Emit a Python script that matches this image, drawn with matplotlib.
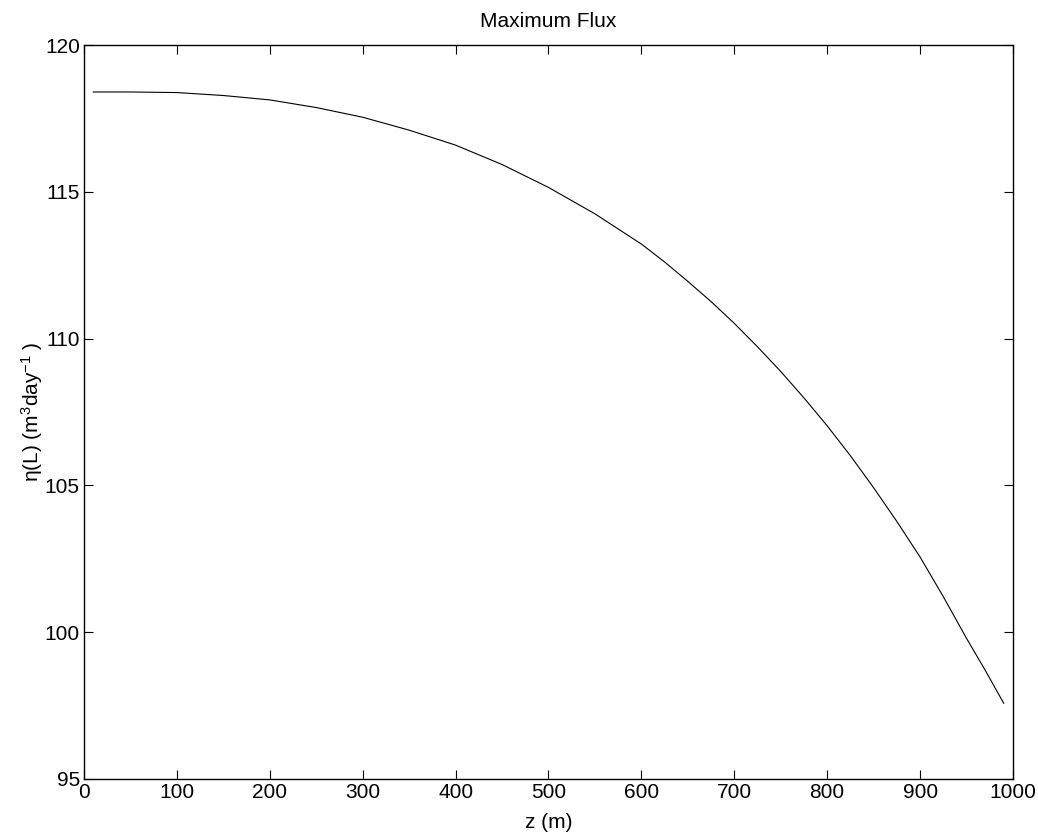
import matplotlib
matplotlib.use('Agg')
import matplotlib.pyplot as plt

plt.rcParams['font.family'] = ['Liberation Sans', 'DejaVu Sans']
plt.rcParams['mathtext.fontset'] = 'custom'
plt.rcParams['mathtext.rm'] = 'Liberation Sans'
plt.rcParams['mathtext.default'] = 'regular'

# valores
z = [10, 50, 100, 150, 200, 250, 300, 350, 400, 450, 500, 550, 600,
     625, 650, 675, 700, 725, 750, 775, 800, 825, 850, 875, 900, 925,
     950, 970, 990]
eta = [118.40, 118.40, 118.38, 118.28, 118.13, 117.87, 117.54, 117.10,
       116.59, 115.93, 115.15, 114.25, 113.22, 112.61, 111.95, 111.26,
       110.52, 109.72, 108.88, 107.98, 107.03, 106.01, 104.92, 103.77,
       102.56, 101.21, 99.79, 98.71, 97.58]

xticks = [0, 100, 200, 300, 400, 500, 600, 700, 800, 900, 1000]
yticks = [95, 100, 105, 110, 115, 120]

fig = plt.figure(figsize=(10.38, 8.35), dpi=100)
ax = fig.add_axes([0.0809, 0.0671, 0.8950, 0.8790])

ax.plot(z, eta, color='black', linewidth=0.8)

ax.set_xlim(0, 1000)
ax.set_ylim(95, 120)
ax.set_xticks(xticks)
ax.set_yticks(yticks)
ax.tick_params(direction='in', top=True, right=True, length=6.5, width=0.8,
               labelsize=15, pad=3)
for s in ax.spines.values():
    s.set_linewidth(1.0)

ax.set_title('Maximum Flux', fontsize=15, pad=13)
ax.set_xlabel('z (m)', fontsize=15, labelpad=8)
ax.set_ylabel('η(L) (m$^{3}$day$^{-1}$ )', fontsize=15, labelpad=0)

plt.savefig('out.png', dpi=100)
